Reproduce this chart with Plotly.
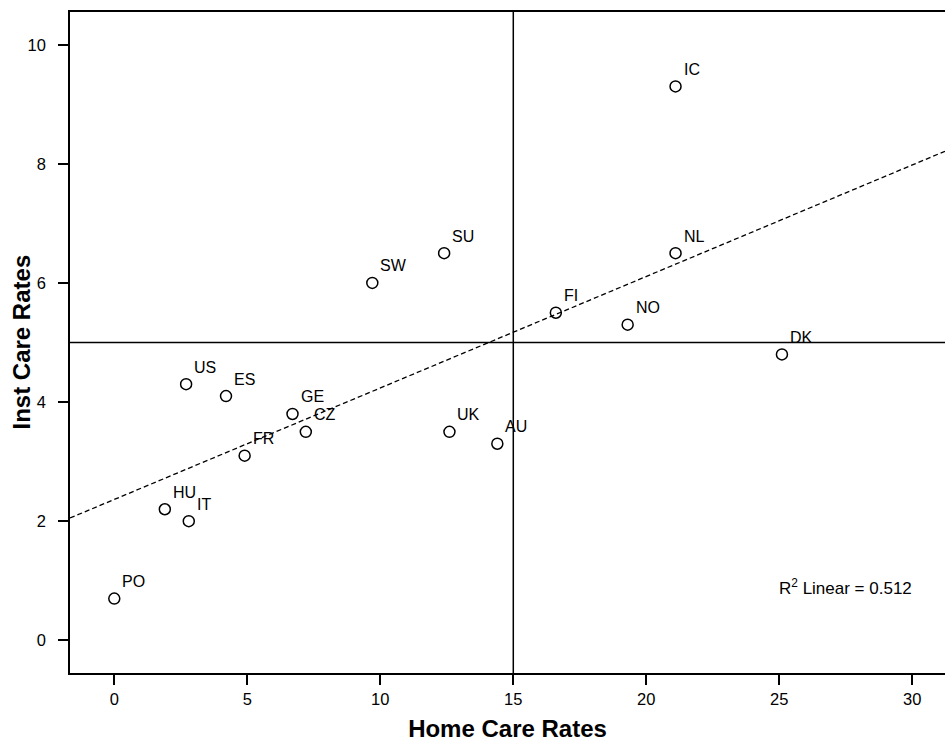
import numpy as np
import plotly.graph_objects as go

# ---- data ----
countries = ["PO", "HU", "IT", "US", "ES", "FR", "GE", "CZ", "SW", "SU",
             "UK", "AU", "FI", "NO", "NL", "IC", "DK"]
home_care = [0.0, 1.9, 2.8, 2.7, 4.2, 4.9, 6.7, 7.2, 9.7, 12.4,
             12.6, 14.4, 16.6, 19.3, 21.1, 21.1, 25.1]
inst_care = [0.7, 2.2, 2.0, 4.3, 4.1, 3.1, 3.8, 3.5, 6.0, 6.5,
             3.5, 3.3, 5.5, 5.3, 6.5, 9.3, 4.8]
ref_home = 15   # vertical reference line
ref_inst = 5    # horizontal reference line
r2_label = "R<sup>2</sup> Linear = 0.512"
x_title = "Home Care Rates"
y_title = "Inst Care Rates"

x_range = [-1.665, 31.23]
y_range = [-0.55, 10.55]

FONT = "Liberation Sans, Arial, sans-serif"

# linear fit across the axis range
slope, intercept = np.polyfit(home_care, inst_care, 1)
fit_x = np.array(x_range)
fit_y = intercept + slope * fit_x

fig = go.Figure()

fig.add_trace(go.Scatter(
    x=fit_x, y=fit_y, mode="lines",
    line=dict(color="black", width=1.3, dash="5px,3px"),
    hoverinfo="skip", showlegend=False,
))

fig.add_trace(go.Scatter(
    x=home_care, y=inst_care, mode="markers",
    marker=dict(symbol="circle-open", size=11, color="black",
                line=dict(color="black", width=1.5)),
    text=countries, showlegend=False,
))

for c, hx, iy in zip(countries, home_care, inst_care):
    fig.add_annotation(
        x=hx, y=iy, text=c, showarrow=False,
        xanchor="left", yanchor="middle", xshift=6, yshift=17,
        font=dict(family=FONT, size=16, color="black"),
    )

fig.add_shape(type="line", xref="x", yref="paper", x0=ref_home, x1=ref_home,
              y0=0, y1=1, line=dict(color="black", width=1.5))
fig.add_shape(type="line", xref="paper", yref="y", x0=0, x1=1,
              y0=ref_inst, y1=ref_inst, line=dict(color="black", width=1.5))

fig.add_annotation(
    x=25.0, y=0.89, text=r2_label, showarrow=False,
    xanchor="left", yanchor="middle", xshift=-2,
    font=dict(family=FONT, size=17, color="black"),
)

# y-axis title placed precisely as a rotated annotation
fig.add_annotation(
    xref="paper", yref="paper", x=-0.056, y=0.5, text=y_title,
    textangle=-90, showarrow=False, xanchor="center", yanchor="middle",
    font=dict(family=FONT, size=24, weight="bold", color="black"),
)

fig.update_layout(
    width=945, height=743,
    margin=dict(l=70, r=0, t=12, b=70),
    paper_bgcolor="white", plot_bgcolor="white",
    font=dict(family=FONT, size=16, color="black"),
    showlegend=False,
    xaxis=dict(
        range=x_range, tickvals=[0, 5, 10, 15, 20, 25, 30],
        showgrid=False, zeroline=False,
        showline=True, linecolor="black", linewidth=1.5, mirror=True,
        ticks="outside", ticklen=10, tickwidth=1.5, tickcolor="black",
        tickfont=dict(size=16.5),
        title=dict(text=x_title, standoff=14,
                   font=dict(size=24, weight="bold")),
        automargin=False,
    ),
    yaxis=dict(
        range=y_range, tickvals=[0, 2, 4, 6, 8, 10],
        showgrid=False, zeroline=False,
        showline=True, linecolor="black", linewidth=1.5, mirror=False,
        ticks="outside", ticklen=10, tickwidth=1.5, tickcolor="black",
        tickfont=dict(size=16.5), ticklabelstandoff=9,
        automargin=False,
    ),
)

fig.write_html(
    "out.html",
    config={"displayModeBar": False},
    post_script="document.body.style.margin='0px';document.body.style.overflow='hidden';",
)
